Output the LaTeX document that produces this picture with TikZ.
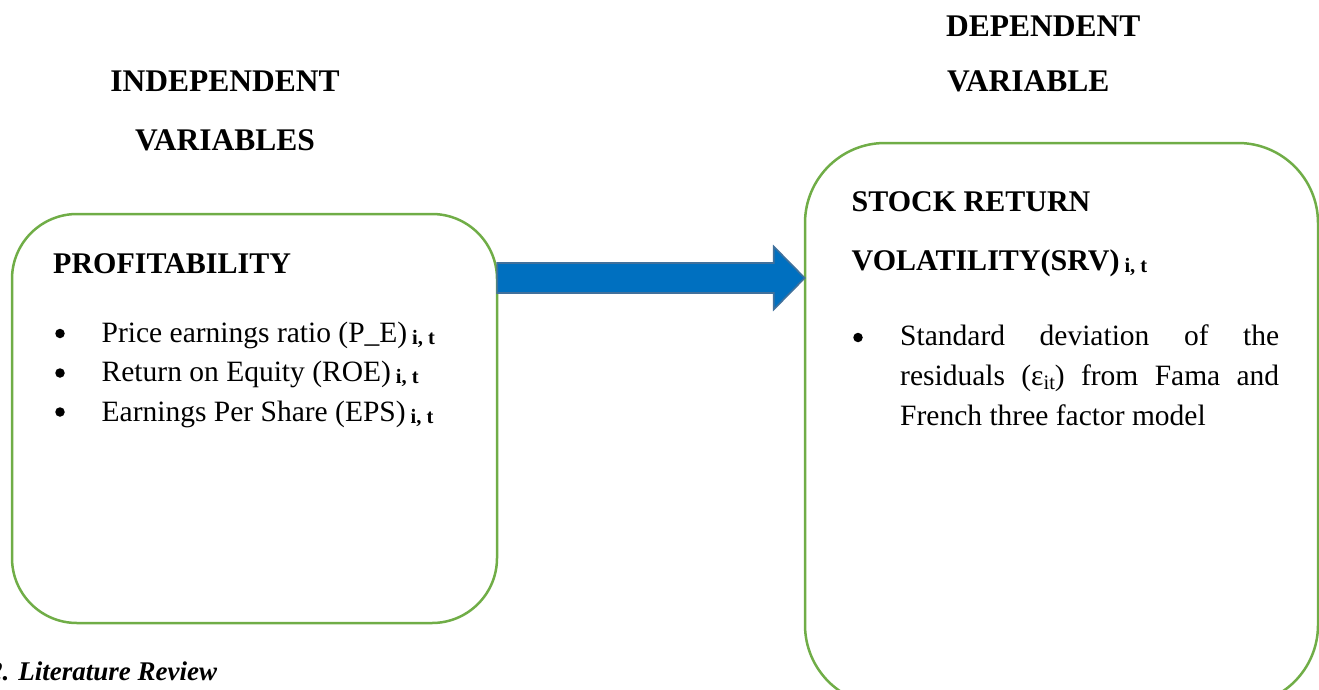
\documentclass[tikz,border=0pt]{standalone}
\usepackage{fontspec}
\setmainfont{Liberation Serif}
\usetikzlibrary{calc}
\definecolor{boxgreen}{HTML}{70AD47}
\definecolor{arrowfill}{HTML}{0070C0}
\definecolor{arrowline}{HTML}{41719C}
\newcommand{\itsub}{\,\raisebox{-2pt}{\fontsize{20.5}{20}\selectfont\bfseries i, t}}
\tikzset{
  greenbox/.style={draw=boxgreen, line width=2.5pt, fill=none, inner sep=0pt},
  blockarrow/.style={draw=arrowline, line width=1.6pt, fill=arrowfill, line join=miter},
  hd/.style={font=\fontsize{31.5}{38}\selectfont\bfseries, inner sep=0pt},
  bx/.style={font=\fontsize{30}{36}\selectfont\bfseries, inner sep=0pt},
  bd/.style={font=\fontsize{29.5}{40}\selectfont, inner sep=0pt},
  ft/.style={font=\fontsize{27}{32}\selectfont\bfseries\itshape, inner sep=0pt},
  bul/.style={circle, fill=black, inner sep=0pt, minimum size=9.5pt}
}
\begin{document}
\begin{tikzpicture}[x=1pt,y=-1pt]
\useasboundingbox (0,0) rectangle (1319,690);
% headings
\node[hd, anchor=base] (h1) at (225,92) {INDEPENDENT};
\node[hd, anchor=base] (h2) at (225,150) {VARIABLES};
\node[hd, anchor=base west] (h3) at (946,37) {DEPENDENT};
\node[hd, anchor=base west] (h4) at (947,92) {VARIABLE};
% boxes
\node[greenbox, rounded corners=65pt, minimum width=485pt, minimum height=409pt] (indep) at (254.5,418.5) {};
\node[greenbox, rounded corners=80pt, minimum width=513pt, minimum height=562pt] (dep) at (1061.5,424) {};
% arrow
\coordinate (ay) at (0,278);
\coordinate (t) at (indep.east |- ay);
\coordinate (tip) at ($(dep.west |- ay)+(1,0)$);
\draw[blockarrow] ($(t)+(-1,-15)$) -- ($(tip)+(-31,-15)$) -- ($(tip)+(-31,-31.5)$) -- (tip)
  -- ($(tip)+(-31,31.5)$) -- ($(tip)+(-31,15)$) -- ($(t)+(-1,15)$) -- cycle;
% left box content
\node[bx, anchor=base west] (p0) at (53,273) {PROFITABILITY};
\node[bul] (b1) at (60,333.5) {};
\node[bul] (b2) at (60,373) {};
\node[bul] (b3) at (60,412) {};
\node[bd, anchor=base west] (l1) at (101.5,342) {Price earnings ratio (P\_E)\itsub};
\node[bd, anchor=base west] (l2) at (101.5,381.5) {Return on Equity (ROE)\itsub};
\node[bd, anchor=base west] (l3) at (101.5,421) {Earnings Per Share (EPS)\itsub};
% right box content
\node[bx, anchor=base west] (s1) at (851.5,211.5) {STOCK RETURN};
\node[bx, anchor=base west] (s2) at (851.5,270) {VOLATILITY(SRV)\itsub};
\node[bul] (b4) at (858,337.5) {};
\node[bd, anchor=base west] (r1) at (900,345) {\makebox[379pt][s]{Standard deviation of the}};
\node[bd, anchor=base west] (r2) at (900,385) {\makebox[379pt][s]{residuals (ε\raisebox{-4pt}{\fontsize{20.5}{20}\selectfont it}) from Fama and}};
\node[bd, anchor=base west] (r3) at (900,425) {French three factor model};
% footer
\node[ft, anchor=base west] (lit) at (-11,680) {2. Literature Review};
\end{tikzpicture}
\end{document}
